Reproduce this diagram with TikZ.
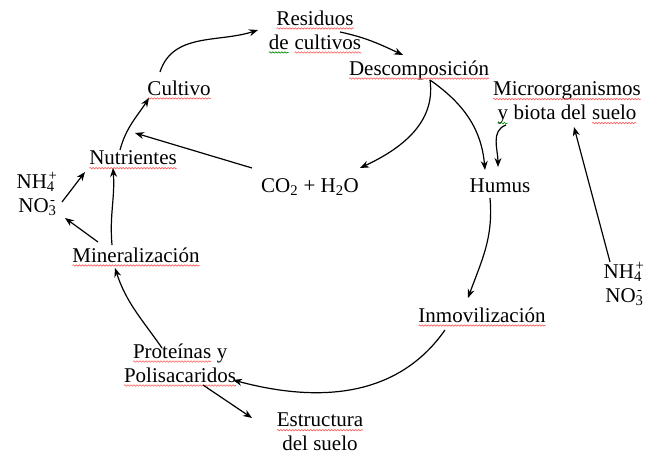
\documentclass[tikz,border=0pt]{standalone}
\usepackage{fontspec}
\setmainfont{Liberation Serif}
\usetikzlibrary{arrows.meta,decorations.pathmorphing}
\tikzset{wavy/.style={line width=0.6pt,decorate,decoration={snake,amplitude=0.7pt,segment length=3pt}}}
\newcommand\rw[1]{\tikz[baseline=(uw.base)]{\node[inner sep=0pt,outer sep=0pt] (uw) {#1};
  \draw[wavy,red!65] ([yshift=-3.4pt]uw.base west) -- ([yshift=-3.4pt]uw.base east);}}
\newcommand\gw[1]{\tikz[baseline=(uw.base)]{\node[inner sep=0pt,outer sep=0pt] (uw) {#1};
  \draw[wavy,green!55!black] ([yshift=-3.4pt]uw.base west) -- ([yshift=-3.4pt]uw.base east);}}
\begin{document}
\begin{tikzpicture}[x=1pt,y=1pt,
  lbl/.style={inner sep=1pt,align=center,font=\fontsize{21}{24}\selectfont},
  arr/.style={line width=1.2pt,-{Stealth[length=9pt,width=7pt]}}]
\path[use as bounding box,fill=white] (0,0) rectangle (651,455);
% nodes
\node[lbl] (res)   at (315,423) {\rw{Residuos}\\\gw{de} \rw{cultivos}};
\node[lbl] (desc)  at (419,385) {\rw{Descomposición}};
\node[lbl] (micro) at (567,352) {\rw{Microorganismos}\\\gw{y} biota del \rw{suelo}};
\node[lbl] (cult)  at (179,365) {\rw{Cultivo}};
\node[lbl] (nutr)  at (133,295) {\rw{Nutrientes}};
\node[lbl] (nhl)   at (37,261)  {NH\textsubscript{4}\kern-0.3em\textsuperscript{+}\\NO\textsubscript{3}\kern-0.3em\textsuperscript{-}};
\node[lbl] (co2)   at (310,268) {CO\textsubscript{2} + H\textsubscript{2}O};
\node[lbl] (humus) at (500,269) {Humus};
\node[lbl] (miner) at (136,198) {\rw{Mineralización}};
\node[lbl] (nhr)   at (624,171) {NH\textsubscript{4}\kern-0.3em\textsuperscript{+}\\NO\textsubscript{3}\kern-0.3em\textsuperscript{-}};
\node[lbl] (inmo)  at (482,138) {\rw{Inmovilización}};
\node[lbl] (prot)  at (180,90)  {\rw{Proteínas} y\\\rw{Polisacaridos}};
\node[lbl] (estr)  at (320,23)  {\rw{Estructura}\\del suelo};
% connectors
\draw[arr] ([shift={(-19,18)}]cult.center) to[out=72,in=198] ([shift={(-57,2)}]res.center);
\draw[arr] ([shift={(25,0)}]res.center) to[out=-12,in=155] ([shift={(-16,15)}]desc.center);
\draw[arr] ([shift={(11,-10)}]desc.center) to[out=-35,in=95] ([shift={(-15,16)}]humus.center);
\draw[arr] ([shift={(11,-10)}]desc.center) to[out=-82,in=25] ([shift={(50,19)}]co2.center);
\draw[arr] ([shift={(-61,-22)}]micro.center) to[out=200,in=90] ([shift={(-2,19)}]humus.center);
\draw[arr] ([shift={(-10,-12)}]humus.center) to[out=-85,in=70] ([shift={(-14,19)}]inmo.center);
\draw[arr] ([shift={(-37,-13)}]inmo.center) to[out=235,in=-15] ([shift={(53,-15)}]prot.center);
\draw[arr] ([shift={(23,-20)}]prot.center) -- ([shift={(-68,14)}]estr.center);
\draw[arr] ([shift={(-18,17)}]prot.center) to[out=125,in=-72] ([shift={(-21,-11)}]miner.center);
\draw[arr] ([shift={(-24,12)}]miner.center) to[out=95,in=-86] ([shift={(-20,-8)}]nutr.center);
\draw[arr] ([shift={(-38,15)}]miner.center) -- ([shift={(28,-24)}]nhl.center);
\draw[arr] ([shift={(25,-8)}]nhl.center) -- ([shift={(-48,-12)}]nutr.center);
\draw[arr] ([shift={(-13,10)}]nutr.center) to[out=75,in=237] ([shift={(-30,-8)}]cult.center);
\draw[arr] ([shift={(-58,19)}]co2.center) -- ([shift={(2,27)}]nutr.center);
\draw[arr] ([shift={(-14,22)}]nhr.center) -- ([shift={(7,-24)}]micro.center);
\end{tikzpicture}
\end{document}
